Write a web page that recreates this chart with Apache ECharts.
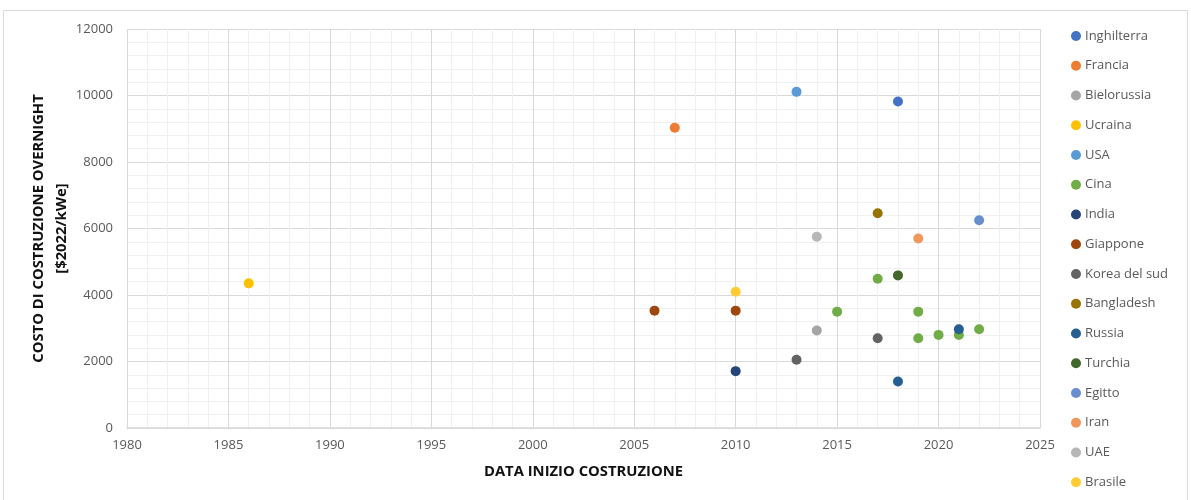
<!DOCTYPE html>
<html>
<head>
<meta charset="utf-8">
<script src="https://cdn.jsdelivr.net/npm/echarts@6/dist/echarts.min.js"></script>
<style>
html,body{margin:0;padding:0;background:#fff;}
#chart{width:1191px;height:500px;}
</style>
</head>
<body>
<div id="chart"></div>
<script>
// Series names (countries) and colours
const countries = ["Inghilterra","Francia","Bielorussia","Ucraina","USA","Cina","India","Giappone","Korea del sud","Bangladesh","Russia","Turchia","Egitto","Iran","UAE","Brasile"];
const colors = ["#4472C4","#ED7D31","#A5A5A5","#FFC000","#5B9BD5","#70AD47","#264478","#9E480E","#636363","#997300","#255E91","#43682B","#698ED0","#F1975A","#B7B7B7","#FFCD33"];

// Data: [year, cost $2022/kWe]
const inghilterra = [[2018, 9820]];
const francia     = [[2007, 9030]];
const bielorussia = [[2014, 2930]];
const ucraina     = [[1986, 4350]];
const usa         = [[2013, 10110]];
const cina        = [[2015, 3500],[2017, 4490],[2019, 3500],[2019, 2700],[2020, 2800],[2021, 2800],[2022, 2970]];
const india       = [[2010, 1710]];
const giappone    = [[2006, 3530],[2010, 3530]];
const korea       = [[2013, 2050],[2017, 2700]];
const bangladesh  = [[2017, 6460]];
const russia      = [[2018, 1400],[2021, 2970]];
const turchia     = [[2018, 4590]];
const egitto      = [[2022, 6250]];
const iran        = [[2019, 5700]];
const uae         = [[2014, 5750]];
const brasile     = [[2010, 4100]];
const seriesData = [inghilterra,francia,bielorussia,ucraina,usa,cina,india,giappone,korea,bangladesh,russia,turchia,egitto,iran,uae,brasile];

const xTitle = "DATA INIZIO COSTRUZIONE";
const yTitle = "COSTO DI COSTRUZIONE OVERNIGHT\n[$2022/kWe]";

const FONT = "'Open Sans', sans-serif";
const chart = echarts.init(document.getElementById('chart'), null, {renderer:'canvas'});
chart.setOption({
  animation:false,
  backgroundColor:'#ffffff',
  graphic:[{type:'rect', shape:{x:3.5,y:10.5,width:1184,height:495}, style:{fill:'none',stroke:'#d9d9d9',lineWidth:1}, silent:true, z:-10}],
  grid:{left:127,top:29,width:913,height:399},
  legend:{
    orient:'vertical', left:1066, top:22, itemGap:11.75,
    icon:'circle', itemWidth:10, itemHeight:10,
    textStyle:{fontFamily:FONT,fontSize:13,color:'#595959',lineHeight:18,padding:[0,0,0,-1]},
    data:countries
  },
  xAxis:{
    type:'value', min:1980, max:2025, interval:5,
    name:xTitle, nameLocation:'middle', nameGap:36,
    nameTextStyle:{fontFamily:FONT,fontSize:14.8,fontWeight:'bold',color:'#111111'},
    axisLine:{show:true,lineStyle:{color:'#d9d9d9',width:1.5}},
    axisTick:{show:false},
    axisLabel:{fontFamily:FONT,fontSize:13,color:'#595959',margin:11,formatter:v=>String(v)},
    splitLine:{show:true,lineStyle:{color:'#d9d9d9',width:1}},
    minorTick:{show:false,splitNumber:5},
    minorSplitLine:{show:true,lineStyle:{color:'#f0f0f0',width:1}}
  },
  yAxis:{
    type:'value', min:0, max:12000, interval:2000,
    name:yTitle, nameLocation:'middle', nameGap:54, nameRotate:90, nameMoveOverlap:false,
    nameTextStyle:{fontFamily:FONT,fontSize:14.8,fontWeight:'bold',color:'#111111',lineHeight:23},
    axisLine:{show:false},
    axisTick:{show:false},
    axisLabel:{fontFamily:FONT,fontSize:13,color:'#595959',margin:14,formatter:v=>String(v)},
    splitLine:{show:true,lineStyle:{color:'#d9d9d9',width:1}},
    minorTick:{show:false,splitNumber:5},
    minorSplitLine:{show:true,lineStyle:{color:'#f0f0f0',width:1}}
  },
  series: countries.map((name,i)=>({
    name:name, type:'scatter', data:seriesData[i], symbol:'circle', symbolSize:10,
    itemStyle:{color:colors[i], opacity:1}
  }))
});
</script>
</body>
</html>
